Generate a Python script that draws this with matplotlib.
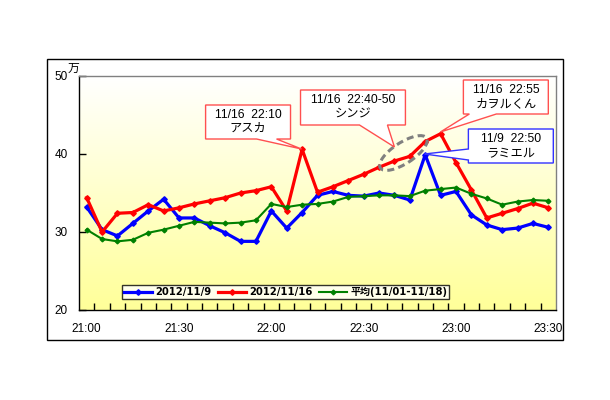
import matplotlib
matplotlib.use('Agg')
import matplotlib.pyplot as plt
import numpy as np
from matplotlib.patches import Polygon, Ellipse, Rectangle
from matplotlib.transforms import ScaledTranslation

# ---- data ----
times = ['21:00', '21:05', '21:10', '21:15', '21:20', '21:25', '21:30', '21:35', '21:40', '21:45',
         '21:50', '21:55', '22:00', '22:05', '22:10', '22:15', '22:20', '22:25', '22:30', '22:35',
         '22:40', '22:45', '22:50', '22:55', '23:00', '23:05', '23:10', '23:15', '23:20', '23:25', '23:30']
tick_labels = ['21:00', '21:30', '22:00', '22:30', '23:00', '23:30']
blue_vals = [33.2, 30.3, 29.5, 31.1, 32.7, 34.2, 31.8, 31.8, 30.8, 29.9, 28.8, 28.8, 32.7, 30.5, 32.5,
             34.7, 35.2, 34.7, 34.6, 35.0, 34.7, 34.1, 39.9, 34.7, 35.2, 32.2, 30.9, 30.3, 30.5, 31.1, 30.6]
red_vals = [34.4, 30.0, 32.4, 32.5, 33.5, 32.7, 33.1, 33.6, 34.0, 34.4, 35.0, 35.3, 35.8, 32.7, 40.6,
            35.1, 35.8, 36.6, 37.4, 38.3, 39.1, 39.7, 41.6, 42.6, 38.9, 35.4, 31.8, 32.4, 33.0, 33.7, 33.1]
green_vals = [30.3, 29.1, 28.8, 29.0, 29.9, 30.3, 30.8, 31.3, 31.2, 31.1, 31.2, 31.5, 33.6, 33.2, 33.5,
              33.6, 33.9, 34.5, 34.6, 34.7, 34.7, 34.6, 35.3, 35.5, 35.7, 34.9, 34.3, 33.5, 33.9, 34.1, 34.0]
series_labels = ['2012/11/9', '2012/11/16', '平均(11/01-11/18)']
y_ticks = [20, 30, 40, 50]

JP = ['Liberation Sans', 'Noto Sans CJK JP']

fig = plt.figure(figsize=(6.1, 4.0), dpi=100)
fig.patch.set_facecolor('white')
ax = fig.add_axes([79/610, 1-310/400, 477/610, 234/400])

x = np.arange(len(times))
ax.set_xlim(-0.5, len(times)-0.5)
ax.set_ylim(20, 50)

# gradient background
grad = np.linspace(0, 1, 256).reshape(-1, 1)
c_top = np.array([1.0, 1.0, 1.0])
c_bot = np.array([1.0, 1.0, 0.60])
img = c_top[None, None, :] * (1-grad[..., None]) + c_bot[None, None, :] * grad[..., None]
ax.imshow(img, extent=[0, 1, 0, 1], transform=ax.transAxes, aspect='auto', zorder=0)

ax.plot(x, blue_vals, color='#0000FF', lw=2.3, marker='D', ms=2.8, zorder=3, label=series_labels[0])
ax.plot(x, red_vals, color='#FF0000', lw=2.3, marker='D', ms=2.8, zorder=3, label=series_labels[1])
ax.plot(x, green_vals, color='#008000', lw=1.5, marker='D', ms=2.4, zorder=3, label=series_labels[2])

# axes styling
for s in ['top', 'right']:
    ax.spines[s].set_color('#808080')
    ax.spines[s].set_linewidth(1)
for s in ['left', 'bottom']:
    ax.spines[s].set_color('black')
    ax.spines[s].set_linewidth(1)

label_pos = [times.index(t) for t in tick_labels]
ax.set_xticks(label_pos)
ax.set_xticklabels(tick_labels, fontfamily='Liberation Sans', fontsize=8.5)
ax.set_xticks(np.arange(len(times)-1) + 0.5, minor=True)
ax.tick_params(axis='x', which='major', length=0, pad=9)
ax.tick_params(axis='x', which='minor', direction='in', length=5, width=1, color='black')
ax.set_yticks(y_ticks)
ax.set_yticklabels([str(v) for v in y_ticks], fontfamily='Liberation Sans', fontsize=8.5)
ax.tick_params(axis='y', direction='in', length=5, width=1, pad=8)

fig.text(73.5/610, 1-68.5/400, '万', fontfamily='Noto Sans CJK JP', fontsize=8.5,
         ha='center', va='center')

# legend
leg = ax.legend(loc='lower left', bbox_to_anchor=(0.09, 0.048), ncol=3, frameon=True,
                fancybox=False, borderpad=0.2, handlelength=2.8, handleheight=0.5,
                handletextpad=0.3, columnspacing=0.7, borderaxespad=0,
                prop={'family': ['DejaVu Sans', 'Noto Sans CJK JP'], 'weight': 'bold', 'size': 7.2})
leg.get_frame().set_edgecolor('black')
leg.get_frame().set_linewidth(1)
leg.get_frame().set_facecolor('white')
leg.set_zorder(6)


def px2d(px, py):
    return ((px - 87) / 15.4, 20 + (310 - py) / 7.8)


def callout(box, side, base, tip, text, color):
    (x0, y1) = px2d(box[0], box[1])
    (x1, y0) = px2d(box[2], box[3])
    t = px2d(*tip)
    if side == 'bottom':
        b1 = px2d(base[0], 0)[0]
        b2 = px2d(base[1], 0)[0]
        pts = [(x0, y1), (x1, y1), (x1, y0), (b2, y0), t, (b1, y0), (x0, y0)]
    else:
        b1 = px2d(0, base[0])[1]
        b2 = px2d(0, base[1])[1]
        pts = [(x0, y1), (x1, y1), (x1, y0), (x0, y0), (x0, b2), t, (x0, b1)]
    ax.add_patch(Polygon(pts, closed=True, fc='white', ec=color, lw=1, zorder=7, clip_on=False))
    ax.text((x0+x1)/2, (y0+y1)/2, text, ha='center', va='center', fontsize=8.8,
            family=JP, linespacing=1.25, zorder=8)


callout((206, 105, 291, 139), 'bottom', (257, 277), (302, 149), '11/16  22:10\nアスカ', '#FF5050')
callout((301, 90, 406, 125), 'bottom', (360, 388), (395, 147), '11/16  22:40-50\nシンジ', '#FF5050')
callout((464, 80, 549, 114), 'bottom', (470, 497), (441, 132), '11/16  22:55\nカヲルくん', '#FF5050')
callout((469, 129, 554, 163), 'left', (149, 160), (425, 154), '11/9  22:50\nラミエル', '#3333FF')

# dashed ellipse
cx, cy = px2d(404, 153)
ell = Ellipse((0, 0), 0.55, 0.21, angle=33, fill=False, ec='#808080', lw=2.2, ls=(0, (2.3, 1.4)),
              transform=fig.dpi_scale_trans + ScaledTranslation(cx, cy, ax.transData), zorder=6)
ax.add_patch(ell)

# outer frame
fig.add_artist(Rectangle((46.7/610, 1-340/400), (563-46.7)/610, (340-59)/400,
                         transform=fig.transFigure, fill=False, ec='black', lw=1))

fig.savefig('out.png', dpi=100)
